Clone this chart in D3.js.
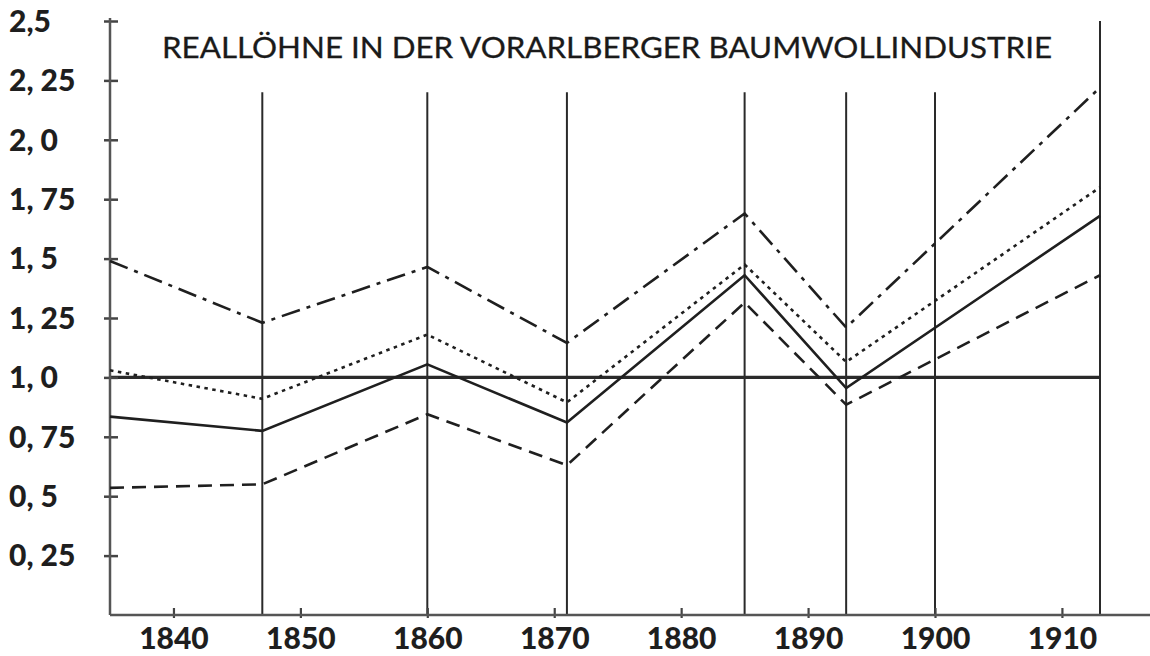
<!DOCTYPE html>
<html>
<head>
<meta charset="utf-8">
<script src="https://cdn.jsdelivr.net/npm/d3@7"></script>
<style>
  body { margin: 0; background: #fff; }
  .tick-label { font-family: Lato, sans-serif; font-weight: 900; fill: #1e1e1e; }
  .title { font-family: Lato, sans-serif; fill: #1a1a1a; }
</style>
</head>
<body>
<svg id="svgGraph" width="1150" height="656"></svg>
<script>
/* values */
const years = [1835, 1847, 1860, 1871, 1885, 1893, 1913];
const dashDotValues = [1.49, 1.23, 1.465, 1.145, 1.69, 1.21, 2.22];
const dottedValues = [1.03, 0.91, 1.18, 0.895, 1.475, 1.065, 1.80];
const solidValues = [0.835, 0.775, 1.055, 0.81, 1.43, 0.955, 1.68];
const dashedValues = [0.535, 0.55, 0.845, 0.63, 1.315, 0.885, 1.43];

const gridYears = [1847, 1860, 1871, 1885, 1893, 1900, 1913];
const gridTops = [2.2, 2.2, 2.2, 2.2, 2.2, 2.2, 2.5];

const xTicks = [1840, 1850, 1860, 1870, 1880, 1890, 1900, 1910];
const yTicks = [0.25, 0.5, 0.75, 1.0, 1.25, 1.5, 1.75, 2.0, 2.25, 2.5];
const yTickLabels = ['0, 25', '0, 5', '0, 75', '1, 0', '1, 25', '1, 5', '1, 75', '2, 0', '2, 25', '2,5'];

const title = 'REALLÖHNE IN DER VORARLBERGER BAUMWOLLINDUSTRIE';

const svg = d3.select('#svgGraph');
const width = +svg.attr('width');

const xScale = d3.scaleLinear().domain([1835, 1913]).range([110, 1100]);
const yScale = d3.scaleLinear().domain([0, 2.5]).range([615, 21]);

const ink = '#1f1f1f';

// title
svg.append('text')
  .attr('class', 'title')
  .attr('x', 162)
  .attr('y', 58)
  .attr('font-size', 29)
  .attr('stroke', '#1a1a1a')
  .attr('stroke-width', 0.3)
  .attr('textLength', 890)
  .attr('lengthAdjust', 'spacingAndGlyphs')
  .text(title);

// vertical year lines
svg.append('g').selectAll('line')
  .data(gridYears)
  .enter().append('line')
  .attr('x1', d => xScale(d))
  .attr('x2', d => xScale(d))
  .attr('y1', (d, i) => yScale(gridTops[i]))
  .attr('y2', yScale(0))
  .attr('stroke', '#2a2a2a')
  .attr('stroke-width', 2);

// 1,0 reference line
svg.append('line')
  .attr('x1', xScale(1835))
  .attr('x2', xScale(1913))
  .attr('y1', yScale(1))
  .attr('y2', yScale(1))
  .attr('stroke', '#2a2a2a')
  .attr('stroke-width', 3.2);

// y axis
const yAxis = d3.axisLeft(yScale)
  .tickValues(yTicks)
  .tickSize(0)
  .tickFormat('');

const yAxisG = svg.append('g')
  .attr('transform', `translate(${xScale(1835)},0)`)
  .call(yAxis);
yAxisG.select('.domain').remove();

yAxisG.append('line')
  .attr('y1', 18)
  .attr('y2', yScale(0))
  .attr('stroke', '#555')
  .attr('stroke-width', 2.5);

yAxisG.selectAll('.tick').append('line')
  .attr('x1', -6)
  .attr('x2', 8)
  .attr('stroke', '#444')
  .attr('stroke-width', 2.5);

svg.append('g').selectAll('text')
  .data(yTicks)
  .enter().append('text')
  .attr('class', 'tick-label')
  .attr('x', 9)
  .attr('y', d => yScale(d))
  .attr('dy', '0.36em')
  .attr('font-size', 30)
  .text((d, i) => yTickLabels[i]);

// x axis
const xAxis = d3.axisBottom(xScale)
  .tickValues(xTicks)
  .tickSize(0)
  .tickPadding(13)
  .tickFormat(d3.format('d'));

const xAxisG = svg.append('g')
  .attr('transform', `translate(0,${yScale(0)})`)
  .call(xAxis);
xAxisG.select('.domain').remove();

xAxisG.append('line')
  .attr('x1', xScale(1835))
  .attr('x2', width)
  .attr('stroke', '#555')
  .attr('stroke-width', 2.5);

xAxisG.selectAll('.tick line')
  .attr('y1', -7)
  .attr('y2', 3)
  .attr('stroke', '#444')
  .attr('stroke-width', 2.2);

xAxisG.selectAll('.tick text')
  .attr('class', 'tick-label')
  .attr('font-size', 30)
  .attr('fill', '#1e1e1e');

// wage series
const series = [
  { values: dashDotValues, dash: '19,7,4,7' },
  { values: dottedValues, dash: '3.5,4.5' },
  { values: solidValues, dash: null },
  { values: dashedValues, dash: '14,8' }
];

const lineGenerator = d3.line()
  .x((d, i) => xScale(years[i]))
  .y(d => yScale(d));

svg.append('g').selectAll('.line-path')
  .data(series)
  .enter().append('path')
  .attr('class', 'line-path')
  .attr('d', d => lineGenerator(d.values))
  .attr('fill', 'none')
  .attr('stroke', ink)
  .attr('stroke-width', 2.6)
  .attr('stroke-dasharray', d => d.dash);
</script>
</body>
</html>
